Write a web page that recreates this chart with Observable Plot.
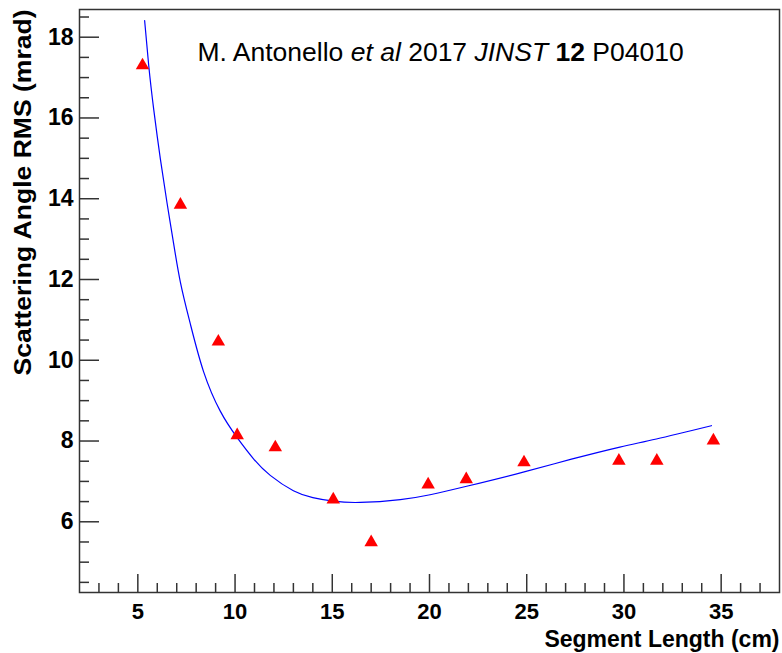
<!DOCTYPE html>
<html><head><meta charset="utf-8">
<script src="https://cdn.jsdelivr.net/npm/d3@7"></script>
<script src="https://cdn.jsdelivr.net/npm/@observablehq/plot@0.6"></script>
<style>html,body{margin:0;padding:0;background:#fff}svg{display:block}</style>
</head><body><div id="chart"></div>
<script>
// Measured points (segment length in cm, scattering angle RMS in mrad)
const segmentLength = [5.24, 7.19, 9.14, 10.11, 12.07, 15.05, 17.0, 19.93, 21.89, 24.86, 29.74, 31.69, 34.6];
const scatteringRms = [17.35, 13.9, 10.51, 8.19, 7.89, 6.6, 5.54, 6.97, 7.10, 7.52, 7.56, 7.56, 8.06];

// Fitted curve
const fitLength = [5.35, 5.56, 5.82, 6.16, 6.5, 6.81, 7.19, 7.7, 8.38, 9.24, 10.1, 10.95, 11.81, 13.0, 14.0, 15.07, 16.45, 18.5, 20.03, 21.91, 24.82, 27.3, 29.79, 31.67, 34.5];
const fitRms    = [18.41, 17.3, 16.2, 14.98, 13.9, 12.98, 11.93, 10.9, 9.72, 8.74, 8.09, 7.56, 7.15, 6.77, 6.6, 6.51, 6.48, 6.55, 6.67, 6.88, 7.23, 7.55, 7.85, 8.05, 8.38];

const xTicks = [5, 10, 15, 20, 25, 30, 35];
const xMinorTicks = [3, 4, 6, 7, 8, 9, 11, 12, 13, 14, 16, 17, 18, 19, 21, 22, 23, 24, 26, 27, 28, 29, 31, 32, 33, 34, 36, 37];
const yTicks = [6, 8, 10, 12, 14, 16, 18];
const yMinorTicks = [4.5, 5, 5.5, 6.5, 7, 7.5, 8.5, 9, 9.5, 10.5, 11, 11.5, 12.5, 13, 13.5, 14.5, 15, 15.5, 16.5, 17, 17.5, 18.5];

const xTitle = "Segment Length (cm)";
const yTitle = "Scattering Angle RMS (mrad)";
const annotationParts = [
  {text: "M. Antonello ", style: "normal", weight: "normal"},
  {text: "et al", style: "italic", weight: "normal"},
  {text: " 2017 ", style: "normal", weight: "normal"},
  {text: "JINST", style: "italic", weight: "normal"},
  {text: " ", style: "normal", weight: "normal"},
  {text: "12", style: "normal", weight: "bold"},
  {text: " P04010", style: "normal", weight: "normal"}
];
const annotation = annotationParts.map(d => d.text).join("");

const W = 782, H = 653, mL = 79, mR = 3, mT = 9, mB = 61;
const frameW = W - mL - mR, frameH = H - mT - mB;
const axisColor = "#333";

const points = segmentLength.map((x, i) => ({x, y: scatteringRms[i]}));
const fit = fitLength.map((x, i) => ({x, y: fitRms[i]}));

const chart = Plot.plot({
  width: W, height: H,
  marginLeft: mL, marginRight: mR, marginTop: mT, marginBottom: mB,
  style: {fontFamily: "'Liberation Sans', Arial, Helvetica, sans-serif", background: "#fff", color: "#000"},
  x: {domain: [2, 38]},
  y: {domain: [4.249, 18.686]},
  marks: [
    Plot.line(fit, {x: "x", y: "y", stroke: "#0000ff", strokeWidth: 1.2, curve: "natural"}),
    Plot.dot(points, {x: "x", y: "y", symbol: "triangle", r: 5, fill: "#ff0000", stroke: null, dy: 2}),
    Plot.tickY(yTicks, {y: d => d, stroke: axisColor, strokeWidth: 1.5, insetRight: frameW - 20}),
    Plot.tickY(yMinorTicks, {y: d => d, stroke: axisColor, strokeWidth: 1.5, insetRight: frameW - 10}),
    Plot.tickX(xTicks, {x: d => d, stroke: axisColor, strokeWidth: 1.5, insetTop: frameH - 18}),
    Plot.tickX(xMinorTicks, {x: d => d, stroke: axisColor, strokeWidth: 1.5, insetTop: frameH - 9}),
    Plot.axisY({ticks: yTicks, tickSize: 0, tickPadding: 6, fontSize: 23, fontWeight: "bold", label: null, tickFormat: d => String(d)}),
    Plot.axisX({ticks: xTicks, tickSize: 0, tickPadding: 11, fontSize: 22, fontWeight: "bold", label: null, tickFormat: d => String(d)}),
    Plot.frame({stroke: axisColor, strokeWidth: 1.5}),
    Plot.text([yTitle], {text: d => d, frameAnchor: "top-left", rotate: -90, textAnchor: "end", lineAnchor: "middle", dx: -56, dy: 0, fontSize: 23, fontWeight: "bold", fill: "#000"}),
    Plot.text([xTitle], {text: d => d, frameAnchor: "bottom-right", textAnchor: "end", lineAnchor: "bottom", dx: 0, dy: 54, fontSize: 23, fontWeight: "bold", fill: "#000"}),
    Plot.text([annotation], {text: d => d, frameAnchor: "top-left", textAnchor: "start", lineAnchor: "bottom", dx: 118, dy: 51, fontSize: 26.5, fill: "#000"})
  ]
});

// Give the citation its mixed italic / bold runs (still real SVG text)
d3.select(chart).selectAll("text").filter(function() { return this.textContent === annotation; })
  .each(function() {
    const t = d3.select(this);
    t.text(null);
    annotationParts.forEach(p => {
      t.append("tspan").attr("font-style", p.style).attr("font-weight", p.weight).text(p.text);
    });
  });

// The y title is drawn a little stretched along its length in the original
d3.select(chart).selectAll("text").filter(function() { return this.textContent === yTitle; })
  .attr("textLength", 366).attr("lengthAdjust", "spacingAndGlyphs");

document.getElementById("chart").appendChild(chart);
</script>
</body></html>
